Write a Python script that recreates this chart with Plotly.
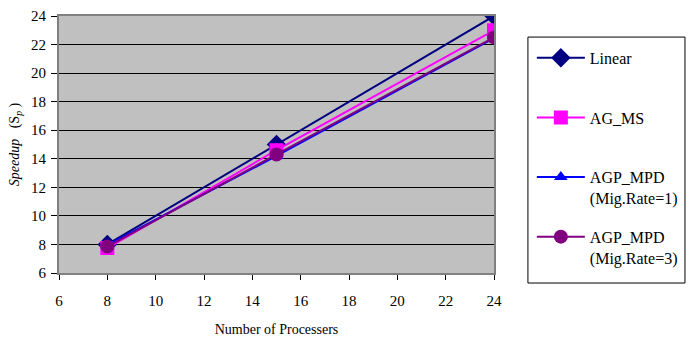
import plotly.graph_objects as go

processors = [8, 15, 24]
linear = [8, 15, 24]
ag_ms = [7.75, 14.6, 23.0]
agp_mpd_1 = [7.95, 14.2, 22.45]
agp_mpd_3 = [7.85, 14.3, 22.5]

x_ticks = [6, 8, 10, 12, 14, 16, 18, 20, 22, 24]
y_ticks = [6, 8, 10, 12, 14, 16, 18, 20, 22, 24]

series = [
    ("Linear<br> ", linear, "#000080", "diamond", 15),
    ("AG_MS<br> ", ag_ms, "#FF00FF", "square", 14),
    ("AGP_MPD<br>(Mig.Rate=1)", agp_mpd_1, "#0000FF", "triangle-up", 12),
    ("AGP_MPD<br>(Mig.Rate=3)", agp_mpd_3, "#800080", "circle", 14),
]

fig = go.Figure()
for i, (name, vals, color, sym, size) in enumerate(series):
    fig.add_trace(go.Scatter(
        x=processors, y=vals, name=name, mode="lines+markers",
        line=dict(color=color, width=2),
        marker=dict(symbol=sym, size=size, color=color, line=dict(width=0)),
        legendgroup=f"g{i}",
    ))

font = "Times New Roman"
fig.update_layout(
    width=691, height=340,
    margin=dict(l=59, r=197, t=16, b=67, autoexpand=False),
    paper_bgcolor="white", plot_bgcolor="#C0C0C0",
    font=dict(family=font, size=13, color="black"),
    showlegend=True,
    legend=dict(
        x=1.087, y=0.903, xanchor="left", yanchor="top",
        bgcolor="rgba(0,0,0,0)", borderwidth=0,
        font=dict(family=font, size=16, color="black"),
        tracegroupgap=15, itemwidth=48, valign="top",
    ),
    xaxis=dict(
        range=[6, 24], tickvals=x_ticks, ticktext=[str(v) for v in x_ticks],
        ticks="outside", ticklen=5, tickcolor="black",
        showgrid=False, zeroline=False, automargin=False,
        showline=True, linecolor="#808080", linewidth=2, mirror=True,
        tickfont=dict(family=font, size=15), ticklabelstandoff=8,
        title=dict(text="Number of Processers", font=dict(family=font, size=14), standoff=16),
    ),
    yaxis=dict(
        range=[6, 24], tickvals=y_ticks, ticktext=[str(v) for v in y_ticks],
        ticks="outside", ticklen=6, tickcolor="black",
        showgrid=True, gridcolor="black", gridwidth=1, zeroline=False, automargin=False,
        showline=True, linecolor="#808080", linewidth=2, mirror=True,
        tickfont=dict(family=font, size=15), ticklabelstandoff=2,
        title=dict(text="<i>Speedup</i>   (S<sub><i>p</i></sub> )", font=dict(family=font, size=14), standoff=8),
    ),
    shapes=[dict(
        type="rect", xref="paper", yref="paper",
        x0=1.078, x1=1.439, y0=-0.039, y1=0.918,
        line=dict(color="black", width=1), fillcolor="rgba(0,0,0,0)",
    )],
)

fig.write_html("out.html", config={"displayModeBar": False},
               post_script="document.body.style.margin='0';")
